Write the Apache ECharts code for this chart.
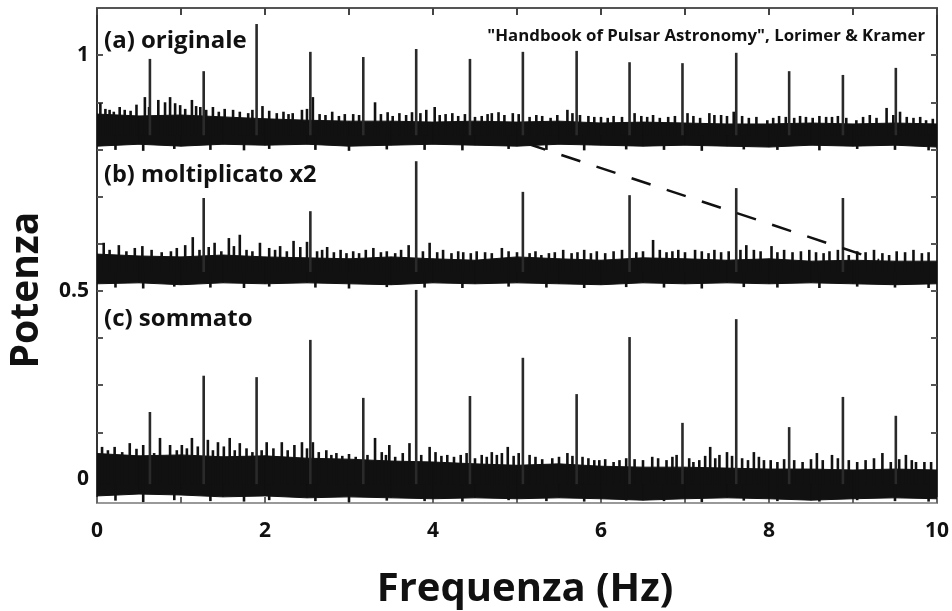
<!DOCTYPE html>
<html>
<head>
<meta charset="utf-8">
<title>Potenza vs Frequenza</title>
<script src="https://cdn.jsdelivr.net/npm/echarts@6/dist/echarts.min.js"></script>
<style>
  html, body { margin: 0; padding: 0; background: #fff; }
  #chart { width: 952px; height: 611px; }
</style>
</head>
<body>
<div id="chart"></div>
<script>
// asse y: unita' = passo delle tacche; le etichette originali sono 0 / 0.5 / 1
const yTickValues = [0, 4, 9];
const yTickLabels = ['0', '0.5', '1'];
const yMinorTicks = [0, 1, 2, 3, 4, 5, 6, 7, 8, 9];
const xTickValues = [0, 2, 4, 6, 8, 10];

// armoniche della pulsar (Hz)
const harmonics = [0.63, 1.27, 1.90, 2.54, 3.17, 3.80, 4.44, 5.07, 5.71, 6.34, 6.97, 7.61, 8.24, 8.88, 9.51];
const harmonicsB = [1.27, 2.54, 3.80, 5.07, 6.34, 7.61, 8.88];

// altezza dei picchi
const peaksA = [8.92, 8.66, 9.66, 9.07, 8.96, 9.13, 8.92, 9.07, 9.09, 8.85, 8.83, 9.05, 8.66, 8.58, 8.73];
const peaksB = [5.97, 5.69, 6.75, 6.10, 6.03, 6.18, 5.97];
const peaksC = [1.43, 2.20, 2.17, 2.96, 1.73, 4.02, 1.77, 2.58, 1.81, 3.02, 1.20, 3.40, 1.11, 1.75, 1.35];
const peakBase = [7.3, 4.4, -0.1];

// fascia di rumore: bordo superiore e inferiore ogni 0.5 Hz
const bandFreq = [0, 0.5, 1, 1.5, 2, 2.5, 3, 3.5, 4, 4.5, 5, 5.5, 6, 6.5, 7, 7.5, 8, 8.5, 9, 9.5, 10];
const bandTopA = [7.75, 7.71, 7.73, 7.69, 7.65, 7.62, 7.60, 7.60, 7.58, 7.60, 7.58, 7.60, 7.56, 7.58, 7.56, 7.54, 7.54, 7.56, 7.54, 7.56, 7.54];
const bandBotA = [7.07, 7.11, 7.07, 7.11, 7.09, 7.11, 7.07, 7.09, 7.11, 7.09, 7.07, 7.11, 7.09, 7.07, 7.09, 7.07, 7.05, 7.09, 7.07, 7.09, 7.05];
const bandTopB = [4.78, 4.74, 4.72, 4.76, 4.72, 4.70, 4.68, 4.72, 4.68, 4.65, 4.72, 4.68, 4.65, 4.70, 4.68, 4.65, 4.68, 4.63, 4.65, 4.63, 4.63];
const bandBotB = [4.15, 4.17, 4.13, 4.17, 4.15, 4.17, 4.15, 4.13, 4.17, 4.15, 4.17, 4.15, 4.13, 4.17, 4.15, 4.17, 4.15, 4.17, 4.15, 4.13, 4.15];
const bandTopC = [0.55, 0.50, 0.52, 0.48, 0.50, 0.45, 0.43, 0.39, 0.37, 0.33, 0.30, 0.33, 0.28, 0.26, 0.26, 0.24, 0.22, 0.22, 0.20, 0.22, 0.20];
const bandBotC = [-0.35, -0.31, -0.33, -0.37, -0.35, -0.39, -0.37, -0.39, -0.41, -0.39, -0.41, -0.39, -0.41, -0.44, -0.41, -0.39, -0.41, -0.44, -0.41, -0.39, -0.41];

// picchi di rumore che sporgono dalla fascia
const spikeFreqA = [0.04, 0.15, 0.27, 0.57, 0.73, 0.81, 0.87, 0.99, 1.13, 1.23, 1.38, 1.62, 1.80, 1.97, 2.14, 2.33, 2.44, 2.57, 3.31, 3.46, 3.60, 3.92, 4.02, 4.23, 4.70, 4.95, 5.23, 5.60, 6.00, 6.40, 6.55, 7.03, 7.29, 7.43, 7.76, 7.98, 8.44, 8.75, 9.04, 9.40, 9.64, 9.87,
  0.10, 0.20, 0.33, 0.40, 0.47, 0.62, 0.93, 1.05, 1.18, 1.30, 1.45, 1.52, 1.70, 1.85, 2.05, 2.22, 2.28, 2.50, 2.65, 2.72, 2.80, 2.88, 2.95, 3.05, 3.12, 3.38, 3.52, 3.68, 3.75, 3.85, 4.08, 4.15, 4.30, 4.38, 4.50, 4.58, 4.65, 4.78, 4.85, 5.02, 5.15, 5.30, 5.40, 5.48, 5.66, 5.75, 5.85, 5.92, 6.08, 6.15, 6.25, 6.48, 6.62, 6.70, 6.80, 6.88, 7.10, 7.18, 7.35, 7.50, 7.58, 7.68, 7.85, 8.05, 8.12, 8.20, 8.30, 8.37, 8.52, 8.60, 8.68, 8.82, 8.92, 9.12, 9.20, 9.28, 9.48, 9.56, 9.72, 9.80, 9.95];
const spikeTopA = [7.98, 7.84, 7.90, 8.11, 8.05, 8.00, 8.11, 7.94, 8.05, 7.90, 7.90, 7.84, 7.77, 7.92, 7.77, 7.77, 7.84, 8.11, 8.00, 7.79, 7.77, 7.84, 7.90, 7.77, 7.77, 7.77, 7.73, 7.84, 7.69, 7.77, 7.69, 7.77, 7.77, 7.73, 7.67, 7.62, 7.69, 7.69, 7.62, 7.88, 7.69, 7.62,
  7.86, 7.80, 7.84, 7.82, 7.95, 7.90, 7.98, 7.86, 7.92, 7.84, 7.80, 7.86, 7.80, 7.84, 7.82, 7.80, 7.75, 7.86, 7.75, 7.73, 7.80, 7.71, 7.75, 7.75, 7.73, 7.75, 7.71, 7.73, 7.79, 7.77, 7.73, 7.75, 7.71, 7.75, 7.69, 7.71, 7.75, 7.79, 7.73, 7.75, 7.69, 7.71, 7.67, 7.73, 7.77, 7.73, 7.71, 7.69, 7.67, 7.71, 7.69, 7.71, 7.73, 7.67, 7.69, 7.71, 7.71, 7.67, 7.73, 7.71, 7.80, 7.71, 7.69, 7.67, 7.71, 7.69, 7.67, 7.71, 7.67, 7.71, 7.69, 7.71, 7.67, 7.69, 7.73, 7.67, 7.73, 7.80, 7.67, 7.69, 7.65];
const spikeFreqB = [0.08, 0.26, 0.54, 0.77, 1.05, 1.14, 1.40, 1.57, 1.70, 1.94, 2.18, 2.34, 2.50, 2.74, 2.97, 3.29, 3.71, 3.96, 4.36, 4.70, 4.82, 5.29, 5.88, 6.62, 6.92, 7.28, 7.43, 7.73, 8.03, 8.56, 8.95, 9.43, 9.90,
  0.15, 0.35, 0.45, 0.65, 0.88, 0.95, 1.22, 1.33, 1.48, 1.63, 1.78, 1.85, 2.05, 2.12, 2.26, 2.42, 2.62, 2.68, 2.82, 2.90, 3.05, 3.12, 3.20, 3.38, 3.45, 3.55, 3.62, 3.88, 4.05, 4.12, 4.22, 4.30, 4.45, 4.52, 4.62, 4.90, 5.00, 5.15, 5.22, 5.38, 5.45, 5.55, 5.65, 5.72, 5.80, 5.95, 6.05, 6.15, 6.25, 6.42, 6.50, 6.70, 6.78, 6.85, 7.00, 7.12, 7.20, 7.35, 7.52, 7.66, 7.82, 7.90, 8.10, 8.18, 8.28, 8.38, 8.48, 8.65, 8.72, 8.82, 9.05, 9.15, 9.25, 9.35, 9.52, 9.62, 9.72, 9.82];
const spikeTopB = [5.02, 4.97, 4.95, 4.82, 4.97, 5.14, 5.02, 5.12, 5.19, 5.02, 4.95, 5.06, 5.04, 4.93, 4.80, 4.91, 4.97, 5.02, 4.82, 4.80, 4.91, 4.76, 4.80, 5.08, 4.87, 4.80, 4.82, 4.97, 4.95, 4.82, 4.76, 4.76, 4.82,
  4.87, 4.84, 4.91, 4.87, 4.84, 4.91, 4.87, 4.93, 4.84, 4.95, 4.87, 4.84, 4.91, 4.87, 4.84, 4.93, 4.84, 4.87, 4.82, 4.87, 4.84, 4.80, 4.87, 4.82, 4.84, 4.80, 4.87, 4.84, 4.82, 4.87, 4.80, 4.84, 4.80, 4.84, 4.82, 4.84, 4.82, 4.80, 4.84, 4.80, 4.82, 4.87, 4.80, 4.82, 4.87, 4.84, 4.80, 4.84, 4.87, 4.82, 4.84, 4.87, 4.82, 4.84, 4.82, 4.87, 4.84, 4.87, 4.84, 4.87, 4.87, 4.84, 4.82, 4.87, 4.82, 4.84, 4.87, 4.80, 4.84, 4.87, 4.84, 4.82, 4.87, 4.80, 4.84, 4.82, 4.87, 4.80];
const spikeFreqC = [0.06, 0.21, 0.39, 0.55, 0.75, 0.87, 1.01, 1.13, 1.32, 1.44, 1.58, 1.70, 2.02, 2.20, 2.35, 2.44, 2.57, 2.73, 2.85, 3.31, 3.39, 3.48, 3.72, 3.96, 4.17, 4.40, 4.70, 4.82, 4.89, 5.15, 5.42, 5.60, 5.78, 5.98, 6.30, 6.61, 6.90, 7.17, 7.30, 7.41, 7.50, 7.82, 7.94, 8.57, 8.75, 9.35, 9.63, 9.75, 9.93,
  0.13, 0.30, 0.47, 0.68, 0.95, 1.07, 1.20, 1.38, 1.51, 1.64, 1.78, 1.85, 1.96, 2.10, 2.27, 2.50, 2.64, 2.79, 2.92, 3.00, 3.08, 3.22, 3.44, 3.55, 3.64, 3.86, 4.03, 4.10, 4.25, 4.33, 4.50, 4.58, 4.64, 4.76, 4.96, 5.02, 5.22, 5.30, 5.50, 5.66, 5.85, 5.92, 6.05, 6.15, 6.22, 6.40, 6.50, 6.68, 6.78, 6.85, 7.05, 7.10, 7.24, 7.36, 7.56, 7.68, 7.75, 7.88, 8.02, 8.10, 8.18, 8.30, 8.40, 8.50, 8.64, 8.82, 8.95, 9.05, 9.15, 9.25, 9.45, 9.55, 9.70, 9.85];
const spikeTopC = [0.69, 0.69, 0.77, 0.73, 0.88, 0.73, 0.73, 0.88, 0.84, 0.79, 0.88, 0.77, 0.79, 0.79, 0.73, 0.79, 0.79, 0.62, 0.56, 0.88, 0.58, 0.73, 0.77, 0.69, 0.52, 0.56, 0.58, 0.56, 0.69, 0.52, 0.45, 0.56, 0.48, 0.41, 0.45, 0.48, 0.52, 0.41, 0.69, 0.52, 0.58, 0.58, 0.41, 0.56, 0.52, 0.56, 0.52, 0.37, 0.37,
  0.62, 0.58, 0.65, 0.56, 0.62, 0.66, 0.70, 0.62, 0.70, 0.62, 0.66, 0.58, 0.62, 0.66, 0.62, 0.66, 0.58, 0.52, 0.50, 0.54, 0.48, 0.52, 0.52, 0.48, 0.56, 0.52, 0.58, 0.50, 0.48, 0.52, 0.45, 0.52, 0.48, 0.52, 0.50, 0.56, 0.48, 0.43, 0.48, 0.50, 0.45, 0.41, 0.43, 0.37, 0.41, 0.43, 0.41, 0.45, 0.41, 0.48, 0.45, 0.37, 0.50, 0.45, 0.50, 0.45, 0.41, 0.48, 0.41, 0.37, 0.43, 0.41, 0.37, 0.43, 0.41, 0.45, 0.41, 0.37, 0.41, 0.45, 0.37, 0.43, 0.41, 0.37];

// avvallamenti sotto la fascia
const dipFreq = [0.22, 0.55, 0.92, 1.35, 1.75, 2.05, 2.60, 3.00, 3.45, 3.90, 4.35, 4.90, 5.35, 5.80, 6.30, 6.75, 7.20, 7.70, 8.10, 8.60, 9.05, 9.50, 9.90];
const dipA = [6.99, 6.97, 7.01, 6.99, 6.98, 7.01, 6.99, 6.97, 7.00, 6.99, 6.98, 7.01, 6.99, 6.98, 7.00, 6.99, 6.97, 7.00, 6.99, 6.98, 7.01, 6.99, 6.98];
const dipB = [4.07, 4.05, 4.09, 4.07, 4.06, 4.09, 4.07, 4.05, 4.08, 4.07, 4.06, 4.09, 4.07, 4.06, 4.08, 4.07, 4.05, 4.08, 4.07, 4.06, 4.09, 4.07, 4.06];
const dipC = [-0.45, -0.48, -0.44, -0.46, -0.47, -0.44, -0.46, -0.48, -0.45, -0.46, -0.47, -0.44, -0.46, -0.47, -0.45, -0.46, -0.48, -0.45, -0.46, -0.47, -0.44, -0.46, -0.47];

// linea tratteggiata (estremi)
const dashFreq = [5.11, 9.31];
const dashLevel = [7.13, 4.65];

const panelLabels = ['(a) originale', '(b) moltiplicato x2', '(c) sommato'];
const citation = '"Handbook of Pulsar Astronomy", Lorimer & Kramer';
const xTitle = 'Frequenza (Hz)';
const yTitle = 'Potenza';

const FONT = '"Open Sans", "DejaVu Sans", sans-serif';
const INK = '#111';

function bandData(top, bot) {
  return bandFreq.map((f, i) => [f, top[i], bot[i]]);
}
function spikeData(freqs, tops, base) {
  return freqs.map((f, i) => [f, base, tops[i]]);
}

function bandSeries(top, bot) {
  const rows = bandData(top, bot);
  return {
    type: 'custom',
    renderItem: function (params, api) {
      const i = params.dataIndex;
      if (i >= rows.length - 1) return null;
      const a = rows[i], b = rows[i + 1];
      const pts = [
        api.coord([a[0], a[1]]), api.coord([b[0], b[1]]),
        api.coord([b[0], b[2]]), api.coord([a[0], a[2]])
      ];
      return {
        type: 'polygon',
        shape: { points: pts },
        style: { fill: INK, stroke: INK, lineWidth: 1 }
      };
    },
    encode: { x: 0, y: [1, 2] },
    data: rows,
    clip: true,
    silent: true
  };
}

function spikeSeries(freqs, tops, base, width, color) {
  return {
    type: 'custom',
    renderItem: function (params, api) {
      const p0 = api.coord([api.value(0), api.value(1)]);
      const p1 = api.coord([api.value(0), api.value(2)]);
      return {
        type: 'line',
        shape: { x1: p0[0], y1: p0[1], x2: p1[0], y2: p1[1] },
        style: { stroke: color, lineWidth: width }
      };
    },
    encode: { x: 0, y: [1, 2] },
    data: spikeData(freqs, tops, base),
    clip: true,
    silent: true
  };
}

const chart = echarts.init(document.getElementById('chart'), null, { renderer: 'canvas' });

const option = {
  animation: false,
  backgroundColor: '#fff',
  grid: { left: 97, right: 14, top: 8, bottom: 108 },
  xAxis: [{
    type: 'value', min: 0, max: 10, interval: 1,
    position: 'bottom',
    axisLine: { show: true, onZero: false, lineStyle: { color: '#999', width: 2 } },
    axisTick: { show: true, inside: true, length: 6, lineStyle: { color: '#666', width: 2 } },
    axisLabel: {
      customValues: xTickValues, margin: 18,
      fontFamily: FONT, fontWeight: 'bold', fontSize: 21, color: INK
    },
    splitLine: { show: false }
  }, {
    type: 'value', min: 0, max: 10, interval: 1,
    position: 'top',
    axisLine: { show: true, onZero: false, lineStyle: { color: '#555', width: 2 } },
    axisTick: { show: true, inside: true, length: 7, lineStyle: { color: '#444', width: 2 } },
    axisLabel: { show: false },
    splitLine: { show: false }
  }],
  yAxis: [{
    type: 'value', min: -0.5, max: 10,
    position: 'left',
    axisLine: { show: true, onZero: false, lineStyle: { color: '#333', width: 2 } },
    axisTick: { show: true, inside: true, length: 6, customValues: yMinorTicks, lineStyle: { color: '#555', width: 2 } },
    axisLabel: {
      customValues: yTickValues, margin: 8,
      formatter: function (v) { return yTickLabels[yTickValues.indexOf(v)]; },
      fontFamily: FONT, fontWeight: 'bold', fontSize: 21, color: INK
    },
    splitLine: { show: false }
  }, {
    type: 'value', min: -0.5, max: 10,
    position: 'right',
    axisLine: { show: true, onZero: false, lineStyle: { color: '#333', width: 2 } },
    axisTick: { show: true, inside: true, length: 6, customValues: yMinorTicks, lineStyle: { color: '#555', width: 2 } },
    axisLabel: { show: false },
    splitLine: { show: false }
  }],
  series: [
    bandSeries(bandTopA, bandBotA),
    bandSeries(bandTopB, bandBotB),
    bandSeries(bandTopC, bandBotC),
    spikeSeries(spikeFreqA, spikeTopA, peakBase[0], 2.6, INK),
    spikeSeries(spikeFreqB, spikeTopB, peakBase[1], 2.6, INK),
    spikeSeries(spikeFreqC, spikeTopC, peakBase[2], 2.6, INK),
    spikeSeries(dipFreq, dipA, peakBase[0], 2.6, INK),
    spikeSeries(dipFreq, dipB, peakBase[1], 2.6, INK),
    spikeSeries(dipFreq, dipC, peakBase[2], 2.6, INK),
    spikeSeries(harmonics, peaksA, peakBase[0], 2.6, '#2a2a2a'),
    spikeSeries(harmonicsB, peaksB, peakBase[1], 2.6, '#2a2a2a'),
    spikeSeries(harmonics, peaksC, peakBase[2], 2.6, '#2a2a2a'),
    {
      type: 'line',
      data: dashFreq.map((f, i) => [f, dashLevel[i]]),
      symbol: 'none',
      lineStyle: { color: INK, width: 2.5, type: [20, 17] },
      silent: true
    }
  ],
  graphic: [
    { type: 'text', x: 104, y: 41, style: { text: panelLabels[0], font: 'bold 24px ' + FONT, fill: INK, verticalAlign: 'middle' } },
    { type: 'text', x: 104, y: 175, style: { text: panelLabels[1], font: 'bold 23.5px ' + FONT, fill: INK, verticalAlign: 'middle' } },
    { type: 'text', x: 104, y: 319, style: { text: panelLabels[2], font: 'bold 24px ' + FONT, fill: INK, verticalAlign: 'middle' } },
    { type: 'text', x: 925, y: 36, style: { text: citation, font: 'bold 16.8px ' + FONT, fill: INK, align: 'right', verticalAlign: 'middle' } },
    { type: 'text', x: 525, y: 590, style: { text: xTitle, font: 'bold 40px ' + FONT, fill: INK, align: 'center', verticalAlign: 'middle' } },
    { type: 'text', x: 27, y: 290, rotation: Math.PI / 2, style: { text: yTitle, font: 'bold 39px ' + FONT, fill: INK, align: 'center', verticalAlign: 'middle' } }
  ]
};

chart.setOption(option);
</script>
</body>
</html>
